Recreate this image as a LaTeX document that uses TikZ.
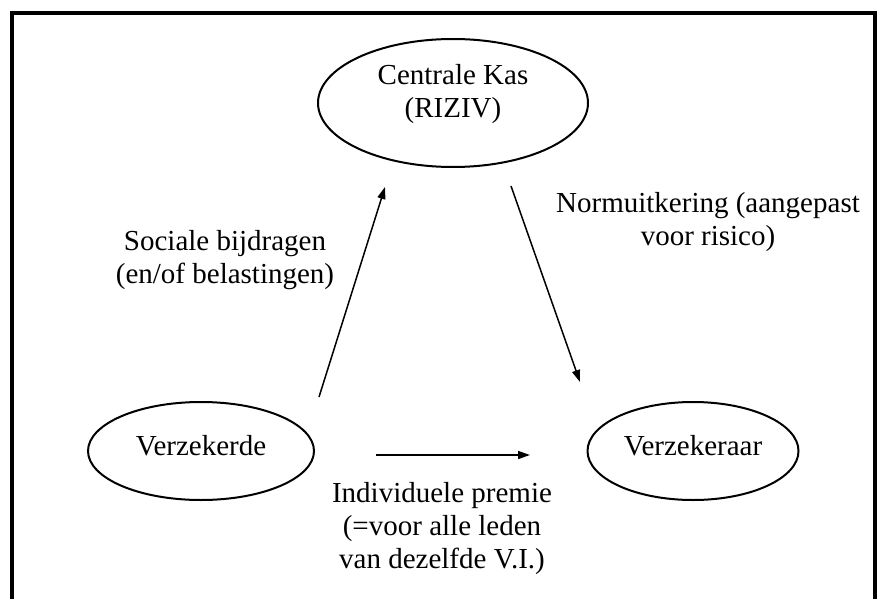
\documentclass[tikz,border=0pt]{standalone}
\usepackage{fontspec}
\setmainfont{Liberation Serif}
\usetikzlibrary{arrows.meta,shapes.geometric}

\begin{document}
\begin{tikzpicture}[x=1pt,y=-1pt,>={Triangle[length=12pt,width=8pt]},
                    font=\fontsize{29}{33}\selectfont,
                    partij/.style={draw,ellipse,line width=2pt,inner sep=0pt,align=center},
                    geld/.style={->,line width=1.5pt},
                    tekst/.style={align=center,inner sep=0pt}]
  \useasboundingbox (0,0) rectangle (882,599);
  \draw[line width=3.5pt] (12,599) -- (12,13) -- (875,13) -- (875,599);

  \node[partij,minimum width=270pt,minimum height=128pt,text depth=25pt] (kas)         at (453,103) {Centrale Kas\\(RIZIV)};
  \node[partij,minimum width=226pt,minimum height=98pt,text depth=12pt]  (verzekerde)  at (201,451) {Verzekerde};
  \node[partij,minimum width=211pt,minimum height=98pt,text depth=12pt]  (verzekeraar) at (693,451) {Verzekeraar};

  \coordinate (bijdrage start) at (319,397);
  \coordinate (bijdrage eind)  at (385,187);
  \coordinate (uitkering start) at (511,186);
  \coordinate (uitkering eind)  at (580,382);
  \coordinate (premie start) at (376,455);
  \coordinate (premie eind)  at (530,455);

  \draw[geld] (bijdrage start) -- (bijdrage eind);
  \draw[geld] (uitkering start) -- (uitkering eind);
  \draw[geld] (premie start) -- (premie eind);

  % baselines of the first lines: 250, 212 and 502
  \node[tekst,anchor=north] (bijdrage)  at (225,230) {Sociale bijdragen\\(en/of belastingen)};
  \node[tekst,anchor=north] (uitkering) at (708,192) {Normuitkering (aangepast\\voor risico)};
  \node[tekst,anchor=north] (premie)    at (442,482) {Individuele premie\\(=voor alle leden\\van dezelfde V.I.)};
\end{tikzpicture}
\end{document}
